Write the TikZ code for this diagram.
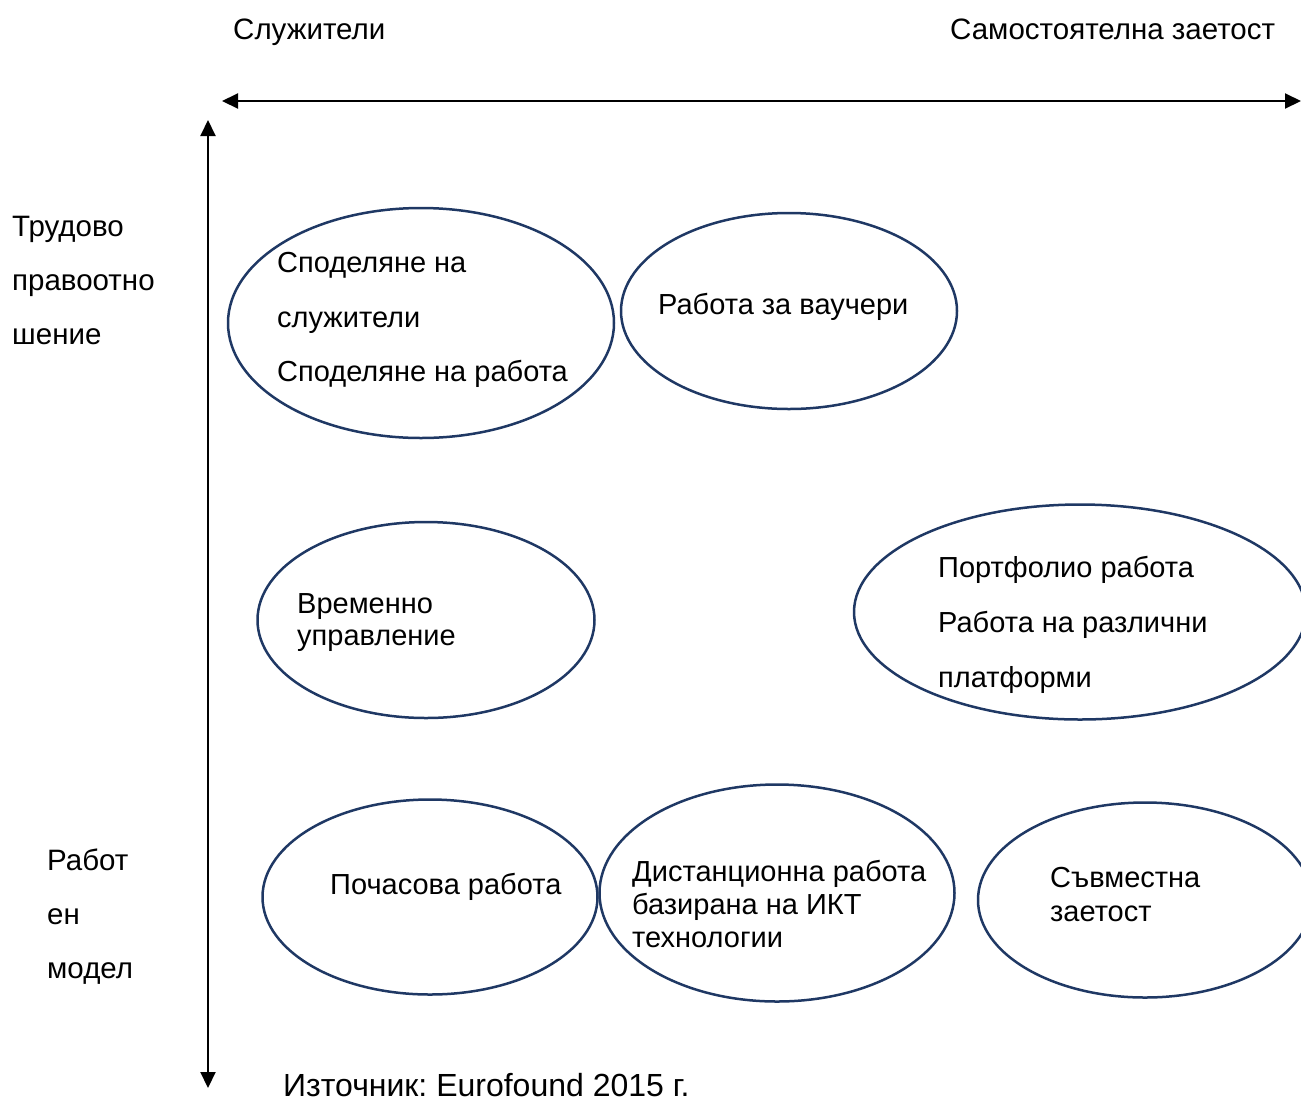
\documentclass[tikz,border=0pt]{standalone}
\usepackage{fontspec}
\setmainfont{Liberation Sans}
\usetikzlibrary{shapes.geometric,arrows.meta}
\definecolor{navy}{RGB}{31,56,100}

\begin{document}
\begin{tikzpicture}[x=1pt, y=-1pt,
        oval/.style={ellipse, draw=navy, line width=2.5pt, inner sep=0pt},
        axis/.style={line width=2pt, {Triangle[length=16pt,width=15pt]}-{Triangle[length=16pt,width=15pt]}},
        head/.style={anchor=base west, inner sep=0pt, font=\fontsize{29.5}{31}\selectfont},
        txt/.style={anchor=base west, inner sep=0pt, font=\fontsize{29}{31}\selectfont}]
        \useasboundingbox (0,0) rectangle (1301,1104);
        \clip (0,0) rectangle (1301,1104);

        \coordinate (hl) at (222,101);
        \coordinate (hr) at (1301,101);
        \coordinate (vt) at (208,120);
        \coordinate (vb) at (208,1088);
        \draw[axis] (hl) -- (hr);
        \draw[axis] (vt) -- (vb);

        \node[head] (empl) at (233,39) {Служители};
        \node[head] (self) at (950,39) {Самостоятелна заетост};

        \node[head] (rel1) at (12,236) {Трудово};
        \node[head] (rel2) at (12,290) {правоотно};
        \node[head] (rel3) at (12,344) {шение};

        \node[head] (mod1) at (47,870) {Работ};
        \node[head] (mod2) at (47,924) {ен};
        \node[head] (mod3) at (47,978) {модел};

        \node[oval, minimum width=386pt, minimum height=230pt] (share) at (421,323) {};
        \node[oval, minimum width=336pt, minimum height=196pt] (voucher) at (789,311) {};
        \node[oval, minimum width=337pt, minimum height=196pt] (interim) at (426,620) {};
        \node[oval, minimum width=452pt, minimum height=215pt] (portfolio) at (1080,612) {};
        \node[oval, minimum width=335pt, minimum height=195pt] (casual) at (430,897) {};
        \node[oval, minimum width=355pt, minimum height=217pt] (ict) at (777,893) {};
        \node[oval, minimum width=334pt, minimum height=195pt] (collab) at (1145,900) {};

        \node[txt] (share1) at (277,272) {Споделяне на};
        \node[txt] (share2) at (277,327) {служители};
        \node[txt] (share3) at (277,381) {Споделяне на работа};

        \node[txt] (voucher1) at (658,314) {Работа за ваучери};

        \node[txt] (interim1) at (297,613) {Временно};
        \node[txt] (interim2) at (297,645) {управление};

        \node[txt] (portfolio1) at (938,577) {Портфолио работа};
        \node[txt] (portfolio2) at (938,632) {Работа на различни};
        \node[txt] (portfolio3) at (938,687) {платформи};

        \node[txt] (casual1) at (330,894) {Почасова работа};

        \node[txt] (ict1) at (632,881) {Дистанционна работа};
        \node[txt] (ict2) at (632,914) {базирана на ИКТ};
        \node[txt] (ict3) at (632,947) {технологии};

        \node[txt] (collab1) at (1050,887) {Съвместна};
        \node[txt] (collab2) at (1050,921) {заетост};

        \node[txt, font=\fontsize{32}{34}\selectfont] (source) at (283,1096) {Източник:\ Eurofound 2015 г.};
    \end{tikzpicture}
\end{document}
